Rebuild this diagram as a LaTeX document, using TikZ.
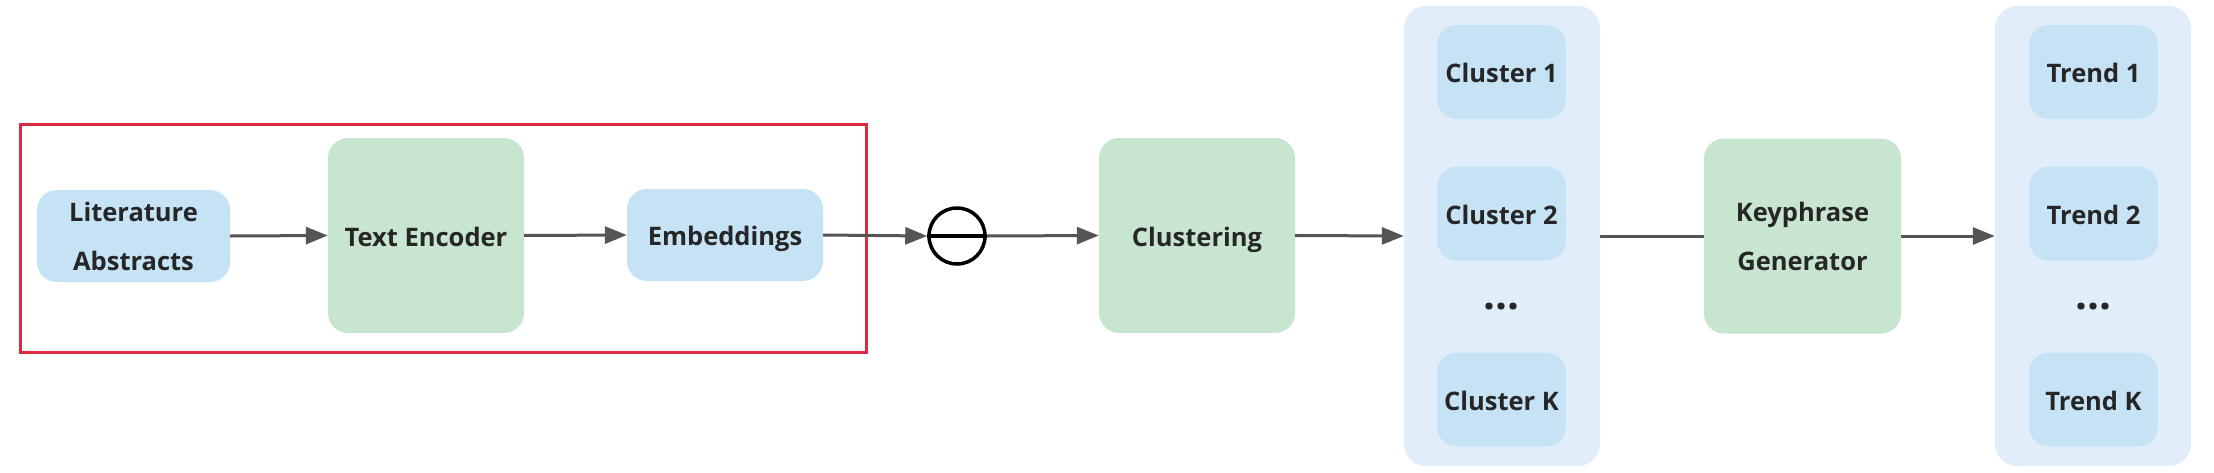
\documentclass[tikz,border=0pt]{standalone}
\usepackage{fontspec}
\setmainfont{Open Sans}
\usetikzlibrary{arrows.meta}
\definecolor{boxblue}{HTML}{C5E3F5}
\definecolor{boxgreen}{HTML}{C8E6CF}
\definecolor{colbg}{HTML}{E1EEF9}
\definecolor{arrowgray}{HTML}{555555}
\definecolor{framered}{HTML}{DC2A3F}
\definecolor{txt}{HTML}{262626}
\begin{document}
\begin{tikzpicture}[x=1pt,y=-1pt,
  base/.style={rectangle,rounded corners=20pt,draw=none,inner sep=0pt,align=center,
    text=txt,font=\fontsize{25.5}{49}\selectfont\bfseries},
  oneline/.style={text height=21pt,text depth=0pt},
  bluebox/.style={base,fill=boxblue},
  greenbox/.style={base,fill=boxgreen},
  colbox/.style={rectangle,rounded corners=22pt,fill=colbg,draw=none,inner sep=0pt,
    minimum width=196pt,minimum height=460pt},
  itembox/.style={bluebox,oneline,minimum width=129pt,minimum height=94pt},
  dotsnode/.style={text=txt,font=\fontsize{42}{42}\selectfont\bfseries,inner sep=0pt},
  flow/.style={draw=arrowgray,line width=3pt,-{Triangle[length=22pt,width=17pt]}},
  plain/.style={draw=arrowgray,line width=3pt}
]
\useasboundingbox (0,0) rectangle (2214,472);
% red frame
\node[draw=framered,line width=3pt,rectangle,inner sep=0pt,minimum width=846pt,minimum height=228pt] (frame) at (443,238) {};
% left part
\node[bluebox,minimum width=193pt,minimum height=92pt] (lit) at (133.5,236) {Literature\\Abstracts};
\node[greenbox,oneline,minimum width=196pt,minimum height=195pt] (enc) at (426,235.5) {Text Encoder};
\node[bluebox,oneline,minimum width=196pt,minimum height=92pt] (emb) at (725,235) {Embeddings};
% circle
\node[circle,draw=black,line width=3.5pt,minimum size=56pt,inner sep=0pt] (sub) at (957,236) {};
\draw[black,line width=3.5pt] (sub.west) -- (sub.east);
% clustering
\node[greenbox,oneline,minimum width=196pt,minimum height=195pt] (clu) at (1197,235.5) {Clustering};
% cluster column
\node[colbox] (ccol) at (1502,236) {};
\node[itembox] (c1) at (1501.5,72) {Cluster 1};
\node[itembox] (c2) at (1501.5,213.5) {Cluster 2};
\node[dotsnode] (cd) at (1501.5,307) {...};
\node[itembox] (ck) at (1501.5,399.5) {Cluster K};
% keyphrase
\node[greenbox,minimum width=197pt,minimum height=195pt] (kp) at (1802.5,236) {Keyphrase\\Generator};
% trend column
\node[colbox] (tcol) at (2093,236) {};
\node[itembox] (t1) at (2093.5,72) {Trend 1};
\node[itembox] (t2) at (2093.5,213.5) {Trend 2};
\node[dotsnode] (td) at (2093.5,307) {...};
\node[itembox] (tk) at (2093.5,399.5) {Trend K};
% connectors
\draw[flow] (lit.east) -- (enc.west);
\draw[flow] (enc.east) -- (emb.west);
\draw[flow] (emb.east) -- (sub.west);
\draw[flow] (sub.east) -- (clu.west);
\draw[flow] (clu.east) -- (ccol.west);
\draw[plain] (ccol.east) -- (kp.west);
\draw[flow] (kp.east) -- (tcol.west);
\end{tikzpicture}
\end{document}
